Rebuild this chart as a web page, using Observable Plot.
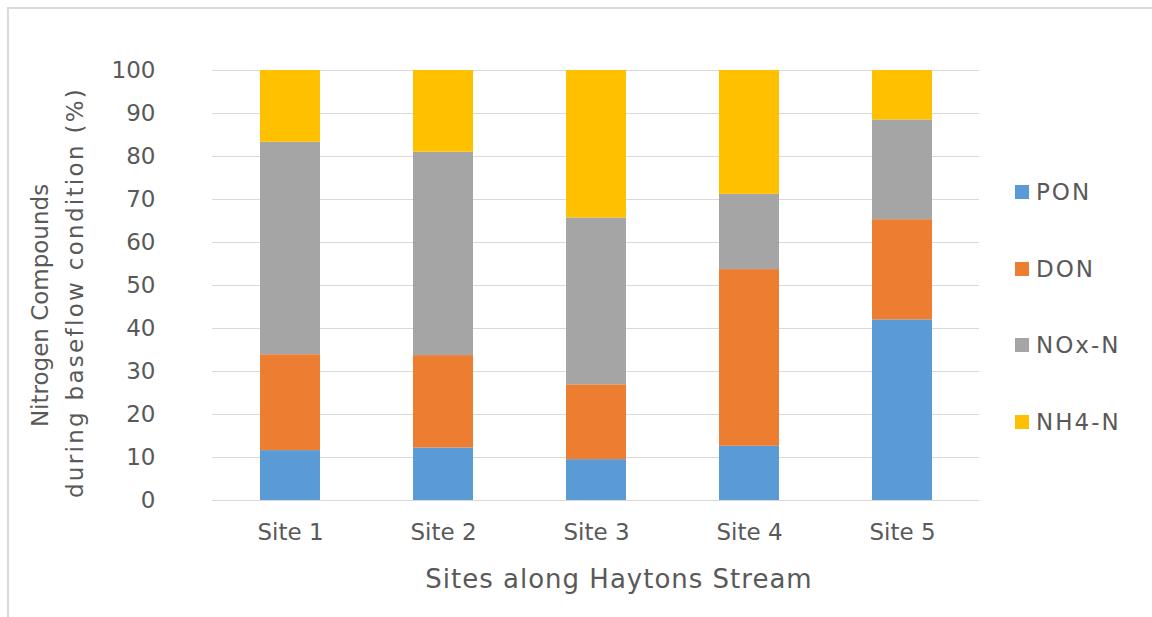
<!DOCTYPE html>
<html><head><meta charset="utf-8">
<script src="https://cdn.jsdelivr.net/npm/d3@7"></script>
<script src="https://cdn.jsdelivr.net/npm/@observablehq/plot@0.6"></script>
<style>
html,body{margin:0;padding:0;background:#fff;}
#wrap{position:relative;width:1152px;height:617px;overflow:hidden;font-family:"DejaVu Sans";color:#595959;}
#wrap svg{position:absolute;left:0;top:0;}
#border{position:absolute;left:7px;top:7px;width:1200px;height:700px;border-top:2px solid #dadada;border-left:2px solid #dadada;}
#legend{position:absolute;left:1015px;top:0;}
.item{position:absolute;left:0;display:flex;align-items:center;white-space:nowrap;font-size:23px;letter-spacing:2px;height:30px;color:#595959;}
.sw{width:14px;height:14px;margin-right:7px;flex:none;}
</style></head><body><div id="wrap"></div>
<script>
const sites = ["Site 1", "Site 2", "Site 3", "Site 4", "Site 5"];
const compounds = ["PON", "DON", "NOx-N", "NH4-N"];
const colors = ["#5b9bd5", "#ed7d31", "#a5a5a5", "#ffc000"];
const pon = [11.6, 12.2, 9.5, 12.6, 42.0];
const don = [22.3, 21.5, 17.4, 41.1, 23.3];
const nox = [49.4, 47.3, 38.8, 17.5, 23.2];
const nh4 = [16.7, 19.0, 34.3, 28.8, 11.5];
const yTicks = [0, 10, 20, 30, 40, 50, 60, 70, 80, 90, 100];
const xTitle = "Sites along Haytons Stream";
const yTitleLines = ["Nitrogen Compounds", "during baseflow condition (%)"];

const series = [pon, don, nox, nh4];
const data = [];
sites.forEach((s, i) => {
  compounds.forEach((c, j) => data.push({site: s, compound: c, value: series[j][i]}));
});

const svg = Plot.plot({
  width: 1152,
  height: 617,
  marginLeft: 212,
  marginRight: 173,
  marginTop: 70,
  marginBottom: 117,
  style: {fontFamily: "DejaVu Sans", fontSize: "23px", color: "#595959", background: "transparent"},
  x: {domain: sites, paddingInner: 0.61, paddingOuter: 0.305},
  y: {domain: [0, 100]},
  color: {domain: compounds, range: colors},
  marks: [
    Plot.gridY(yTicks, {stroke: "#d9d9d9", strokeOpacity: 1, strokeWidth: 1}),
    Plot.barY(data, {x: "site", y: "value", fill: "compound"}),
    Plot.axisY(yTicks, {tickSize: 0, tickPadding: 57, label: null, fontSize: 23, fill: "#595959"}),
    Plot.axisX({tickSize: 0, tickPadding: 23, label: null, fontSize: 23, fill: "#595959"}),
    Plot.text([xTitle], {text: d => d, frameAnchor: "bottom", dx: 23, dy: 79, lineAnchor: "middle", fontSize: 26, fill: "#595959"}),
    Plot.text([yTitleLines[0]], {text: d => d, frameAnchor: "left", rotate: -90, dx: -165, dy: 20, lineAnchor: "bottom", textAnchor: "middle", fontSize: 23, fill: "#595959"}),
    Plot.text([yTitleLines[1]], {text: d => d, frameAnchor: "left", rotate: -90, dx: -130, dy: 7, lineAnchor: "bottom", textAnchor: "middle", fontSize: 23, fill: "#595959"})
  ]
});

const texts = d3.select(svg).selectAll("text");
texts.filter(function() { return this.textContent === xTitle; }).attr("letter-spacing", "1px");
texts.filter(function() { return this.textContent === yTitleLines[1]; }).attr("letter-spacing", "2.3px");

const wrap = document.getElementById("wrap");
wrap.appendChild(svg);
const border = document.createElement("div");
border.id = "border";
wrap.appendChild(border);

const legend = document.createElement("div");
legend.id = "legend";
compounds.forEach((c, i) => {
  const item = document.createElement("div");
  item.className = "item";
  item.style.top = (192 + i * 76.7 - 15) + "px";
  const sw = document.createElement("div");
  sw.className = "sw";
  sw.style.background = colors[i];
  const label = document.createElement("span");
  label.textContent = c;
  item.appendChild(sw);
  item.appendChild(label);
  legend.appendChild(item);
});
wrap.appendChild(legend);
</script>
</body></html>
